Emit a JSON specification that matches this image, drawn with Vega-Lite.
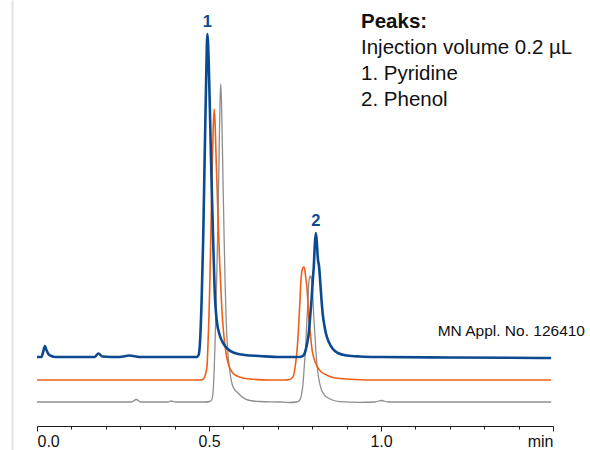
{
  "$schema": "https://vega.github.io/schema/vega-lite/v6.json",
  "autosize": "none",
  "width": 516,
  "height": 450,
  "padding": {"left": 37, "right": 37, "top": 0, "bottom": 0},
  "background": "white",
  "view": {"stroke": null},
  "config": {"font": "Liberation Sans"},
  "datasets": {
    "traces": [
      {"run": "a", "t": 0.0, "v": 93}, {"run": "a", "t": 0.0128, "v": 93}, {"run": "a", "t": 0.0186, "v": 99},
      {"run": "a", "t": 0.023, "v": 104}, {"run": "a", "t": 0.0274, "v": 100}, {"run": "a", "t": 0.0332, "v": 96},
      {"run": "a", "t": 0.0419, "v": 94}, {"run": "a", "t": 0.0536, "v": 93}, {"run": "a", "t": 0.1671, "v": 93},
      {"run": "a", "t": 0.1787, "v": 96.5}, {"run": "a", "t": 0.1904, "v": 93.5}, {"run": "a", "t": 0.2399, "v": 93},
      {"run": "a", "t": 0.269, "v": 94.5}, {"run": "a", "t": 0.2981, "v": 93}, {"run": "a", "t": 0.464, "v": 93},
      {"run": "a", "t": 0.4699, "v": 95}, {"run": "a", "t": 0.4742, "v": 110}, {"run": "a", "t": 0.4786, "v": 150},
      {"run": "a", "t": 0.483, "v": 210}, {"run": "a", "t": 0.4873, "v": 290}, {"run": "a", "t": 0.4917, "v": 370},
      {"run": "a", "t": 0.4952, "v": 416}, {"run": "a", "t": 0.499, "v": 390}, {"run": "a", "t": 0.5033, "v": 330},
      {"run": "a", "t": 0.5077, "v": 265}, {"run": "a", "t": 0.5121, "v": 210}, {"run": "a", "t": 0.5164, "v": 160},
      {"run": "a", "t": 0.5223, "v": 130}, {"run": "a", "t": 0.531, "v": 115}, {"run": "a", "t": 0.5427, "v": 106},
      {"run": "a", "t": 0.5543, "v": 101}, {"run": "a", "t": 0.5747, "v": 97}, {"run": "a", "t": 0.6038, "v": 95},
      {"run": "a", "t": 0.6475, "v": 94}, {"run": "a", "t": 0.7057, "v": 93}, {"run": "a", "t": 0.7639, "v": 93},
      {"run": "a", "t": 0.7726, "v": 94}, {"run": "a", "t": 0.7785, "v": 97}, {"run": "a", "t": 0.7843, "v": 105},
      {"run": "a", "t": 0.7901, "v": 117}, {"run": "a", "t": 0.7945, "v": 135}, {"run": "a", "t": 0.798, "v": 150},
      {"run": "a", "t": 0.8017, "v": 170}, {"run": "a", "t": 0.8047, "v": 184}, {"run": "a", "t": 0.8076, "v": 205},
      {"run": "a", "t": 0.8105, "v": 217}, {"run": "a", "t": 0.8134, "v": 208}, {"run": "a", "t": 0.8163, "v": 192},
      {"run": "a", "t": 0.8201, "v": 183}, {"run": "a", "t": 0.8236, "v": 167}, {"run": "a", "t": 0.8271, "v": 150},
      {"run": "a", "t": 0.8309, "v": 135}, {"run": "a", "t": 0.8352, "v": 125}, {"run": "a", "t": 0.8396, "v": 117},
      {"run": "a", "t": 0.8483, "v": 108}, {"run": "a", "t": 0.86, "v": 101}, {"run": "a", "t": 0.8745, "v": 97},
      {"run": "a", "t": 0.9007, "v": 94.5}, {"run": "a", "t": 0.9386, "v": 93.5}, {"run": "a", "t": 0.9968, "v": 93},
      {"run": "a", "t": 1.2006, "v": 92.5}, {"run": "a", "t": 1.4946, "v": 92},

      {"run": "b", "t": 0.0, "v": 70}, {"run": "b", "t": 0.4728, "v": 70}, {"run": "b", "t": 0.4815, "v": 70.5},
      {"run": "b", "t": 0.4873, "v": 73}, {"run": "b", "t": 0.494, "v": 83}, {"run": "b", "t": 0.4975, "v": 110},
      {"run": "b", "t": 0.5004, "v": 140}, {"run": "b", "t": 0.5033, "v": 180}, {"run": "b", "t": 0.5063, "v": 230},
      {"run": "b", "t": 0.5092, "v": 280}, {"run": "b", "t": 0.5121, "v": 320}, {"run": "b", "t": 0.515, "v": 341},
      {"run": "b", "t": 0.5179, "v": 325}, {"run": "b", "t": 0.5208, "v": 290}, {"run": "b", "t": 0.5237, "v": 260},
      {"run": "b", "t": 0.5266, "v": 230}, {"run": "b", "t": 0.531, "v": 188}, {"run": "b", "t": 0.536, "v": 150},
      {"run": "b", "t": 0.5412, "v": 122}, {"run": "b", "t": 0.5456, "v": 107}, {"run": "b", "t": 0.5514, "v": 93},
      {"run": "b", "t": 0.5572, "v": 85}, {"run": "b", "t": 0.5689, "v": 77}, {"run": "b", "t": 0.5892, "v": 73},
      {"run": "b", "t": 0.6183, "v": 71}, {"run": "b", "t": 0.6766, "v": 70}, {"run": "b", "t": 0.7202, "v": 70},
      {"run": "b", "t": 0.7348, "v": 70.5}, {"run": "b", "t": 0.7444, "v": 73.3}, {"run": "b", "t": 0.7508, "v": 84},
      {"run": "b", "t": 0.756, "v": 100}, {"run": "b", "t": 0.7595, "v": 117}, {"run": "b", "t": 0.7619, "v": 133},
      {"run": "b", "t": 0.7645, "v": 150}, {"run": "b", "t": 0.7668, "v": 167}, {"run": "b", "t": 0.7697, "v": 178},
      {"run": "b", "t": 0.7726, "v": 182}, {"run": "b", "t": 0.7755, "v": 183}, {"run": "b", "t": 0.7785, "v": 180},
      {"run": "b", "t": 0.7814, "v": 172}, {"run": "b", "t": 0.7834, "v": 167}, {"run": "b", "t": 0.7872, "v": 150},
      {"run": "b", "t": 0.7901, "v": 133}, {"run": "b", "t": 0.7945, "v": 117}, {"run": "b", "t": 0.7997, "v": 100},
      {"run": "b", "t": 0.8047, "v": 92}, {"run": "b", "t": 0.8154, "v": 83}, {"run": "b", "t": 0.825, "v": 78.5},
      {"run": "b", "t": 0.8416, "v": 75}, {"run": "b", "t": 0.86, "v": 72.5}, {"run": "b", "t": 0.8803, "v": 71.5},
      {"run": "b", "t": 0.924, "v": 70.5}, {"run": "b", "t": 0.9968, "v": 70}, {"run": "b", "t": 1.4946, "v": 70},

      {"run": "c", "t": 0.0, "v": 48}, {"run": "c", "t": 0.2748, "v": 48}, {"run": "c", "t": 0.2885, "v": 50.5},
      {"run": "c", "t": 0.301, "v": 48}, {"run": "c", "t": 0.3796, "v": 48}, {"run": "c", "t": 0.3904, "v": 49},
      {"run": "c", "t": 0.4029, "v": 48}, {"run": "c", "t": 0.4873, "v": 48}, {"run": "c", "t": 0.5019, "v": 48.5},
      {"run": "c", "t": 0.5077, "v": 50}, {"run": "c", "t": 0.5115, "v": 57}, {"run": "c", "t": 0.515, "v": 80},
      {"run": "c", "t": 0.5179, "v": 110}, {"run": "c", "t": 0.5208, "v": 150}, {"run": "c", "t": 0.5243, "v": 200},
      {"run": "c", "t": 0.5272, "v": 250}, {"run": "c", "t": 0.5295, "v": 300}, {"run": "c", "t": 0.5319, "v": 345},
      {"run": "c", "t": 0.5339, "v": 366}, {"run": "c", "t": 0.5362, "v": 350}, {"run": "c", "t": 0.5386, "v": 310},
      {"run": "c", "t": 0.5412, "v": 260}, {"run": "c", "t": 0.5441, "v": 210}, {"run": "c", "t": 0.547, "v": 165},
      {"run": "c", "t": 0.5499, "v": 130}, {"run": "c", "t": 0.5543, "v": 100}, {"run": "c", "t": 0.5601, "v": 80},
      {"run": "c", "t": 0.5697, "v": 63.3}, {"run": "c", "t": 0.5843, "v": 57}, {"run": "c", "t": 0.6125, "v": 50},
      {"run": "c", "t": 0.6475, "v": 48.5}, {"run": "c", "t": 0.7057, "v": 48}, {"run": "c", "t": 0.7348, "v": 47.5},
      {"run": "c", "t": 0.7552, "v": 48}, {"run": "c", "t": 0.7639, "v": 50}, {"run": "c", "t": 0.7697, "v": 57},
      {"run": "c", "t": 0.7735, "v": 67}, {"run": "c", "t": 0.777, "v": 84}, {"run": "c", "t": 0.7805, "v": 100},
      {"run": "c", "t": 0.7828, "v": 117}, {"run": "c", "t": 0.7852, "v": 133}, {"run": "c", "t": 0.7878, "v": 150},
      {"run": "c", "t": 0.7901, "v": 167}, {"run": "c", "t": 0.793, "v": 173}, {"run": "c", "t": 0.7951, "v": 174},
      {"run": "c", "t": 0.7974, "v": 172}, {"run": "c", "t": 0.7997, "v": 167}, {"run": "c", "t": 0.8023, "v": 150},
      {"run": "c", "t": 0.8047, "v": 133}, {"run": "c", "t": 0.8076, "v": 117}, {"run": "c", "t": 0.8105, "v": 100},
      {"run": "c", "t": 0.8143, "v": 84}, {"run": "c", "t": 0.8183, "v": 73}, {"run": "c", "t": 0.8271, "v": 60},
      {"run": "c", "t": 0.8367, "v": 54.5}, {"run": "c", "t": 0.8463, "v": 52}, {"run": "c", "t": 0.8629, "v": 49.5},
      {"run": "c", "t": 0.8803, "v": 48.3}, {"run": "c", "t": 0.9386, "v": 47.7}, {"run": "c", "t": 0.9822, "v": 48},
      {"run": "c", "t": 1.0017, "v": 49.5}, {"run": "c", "t": 1.0201, "v": 48}, {"run": "c", "t": 1.4946, "v": 48}
    ],
    "peaks": [
      {"t": 0.4952, "v": 416, "text": "1"},
      {"t": 0.8105, "v": 217, "text": "2"}
    ],
    "notes": [
      {"t": 0.9419, "v": 422, "text": "Peaks:", "role": "heading"},
      {"t": 0.9419, "v": 396, "text": "Injection volume 0.2 µL", "role": "line"},
      {"t": 0.9419, "v": 370, "text": "1. Pyridine", "role": "line"},
      {"t": 0.9419, "v": 344, "text": "2. Phenol", "role": "line"},
      {"t": 1.593, "v": 114, "text": "MN Appl. No. 126410", "role": "ref"}
    ]
  },
  "encoding": {
    "x": {
      "field": "t",
      "type": "quantitative",
      "scale": {"domain": [0, 1.5], "nice": false, "zero": false},
      "axis": {
        "title": null,
        "grid": false,
        "offset": -24,
        "values": [0, 0.1, 0.2, 0.3, 0.4, 0.5, 0.6, 0.7, 0.8, 0.9, 1, 1.1, 1.2, 1.3, 1.4, 1.5],
        "labelExpr": "datum.value == 1.5 ? 'min' : (datum.value == 0 || datum.value == 0.5 || datum.value == 1) ? format(datum.value, '.1f') : ''",
        "labelFlush": true,
        "labelOverlap": false,
        "labelFont": "Liberation Sans",
        "labelFontSize": 16,
        "labelColor": "#111111",
        "labelPadding": 2,
        "domainColor": "#1a1a1a",
        "domainWidth": 1,
        "tickColor": "#1a1a1a",
        "tickWidth": 1,
        "tickSize": {"condition": {"test": "datum.value == 0 || datum.value == 0.5 || datum.value == 1 || datum.value == 1.5", "value": 5}, "value": 3}
      }
    },
    "y": {
      "field": "v",
      "type": "quantitative",
      "scale": {"domain": [0, 450], "nice": false, "zero": false},
      "axis": {
        "title": null,
        "grid": false,
        "ticks": false,
        "labels": false,
        "offset": 25,
        "domainColor": "#dde2ef",
        "domainWidth": 2
      }
    }
  },
  "layer": [
    {
      "data": {"name": "traces"},
      "transform": [{"filter": "datum.run == 'c'"}],
      "mark": {"type": "line", "color": "#8e8e8e", "strokeWidth": 1.3, "interpolate": "monotone"}
    },
    {
      "data": {"name": "traces"},
      "transform": [{"filter": "datum.run == 'b'"}],
      "mark": {"type": "line", "color": "#ef5f17", "strokeWidth": 1.6, "interpolate": "monotone"}
    },
    {
      "data": {"name": "traces"},
      "transform": [{"filter": "datum.run == 'a'"}],
      "mark": {"type": "line", "color": "#0b4a90", "strokeWidth": 2.6, "interpolate": "monotone"}
    },
    {
      "data": {"name": "peaks"},
      "mark": {"type": "text", "color": "#0b4a90", "fontSize": 16.5, "fontWeight": "bold", "baseline": "alphabetic", "align": "center", "dy": -7},
      "encoding": {"text": {"field": "text"}}
    },
    {
      "data": {"name": "notes"},
      "transform": [{"filter": "datum.role == 'heading'"}],
      "mark": {"type": "text", "color": "#111111", "fontSize": 20.5, "fontWeight": "bold", "baseline": "alphabetic", "align": "left"},
      "encoding": {"text": {"field": "text"}}
    },
    {
      "data": {"name": "notes"},
      "transform": [{"filter": "datum.role == 'line'"}],
      "mark": {"type": "text", "color": "#111111", "fontSize": 20.5, "baseline": "alphabetic", "align": "left"},
      "encoding": {"text": {"field": "text"}}
    },
    {
      "data": {"name": "notes"},
      "transform": [{"filter": "datum.role == 'ref'"}],
      "mark": {"type": "text", "color": "#111111", "fontSize": 15.5, "baseline": "alphabetic", "align": "right"},
      "encoding": {"text": {"field": "text"}}
    }
  ]
}
